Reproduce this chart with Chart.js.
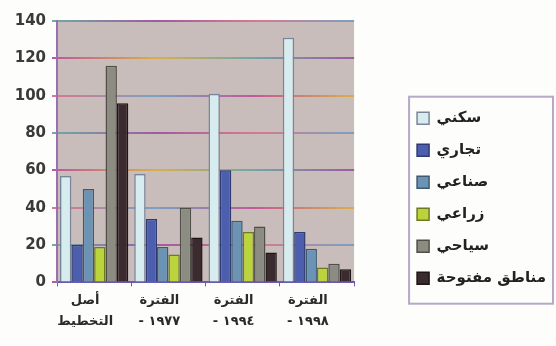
<!DOCTYPE html>
<html lang="ar">
<head>
<meta charset="utf-8">
<script src="https://cdn.jsdelivr.net/npm/chart.js@4/dist/chart.umd.min.js"></script>
<style>
  html, body { margin: 0; padding: 0; background: #fdfdfb; }
  #wrap { width: 556px; height: 346px; }
</style>
</head>
<body>
<div id="wrap"><canvas id="landUse"></canvas></div>
<script>
// land use by planning period
const periods = [
    ['أصل', 'التخطيط'],
    ['الفترة', '- ١٩٧٧'],
    ['الفترة', '- ١٩٩٤'],
    ['الفترة', '- ١٩٩٨']
];
const useNames = ['سكني', 'تجاري', 'صناعي', 'زراعي', 'سياحي', 'مناطق مفتوحة'];
const residential = [57, 58, 101, 131];
const commercial  = [20, 34, 60, 27];
const industrial  = [50, 19, 33, 18];
const agricultural = [19, 15, 27, 8];
const tourism     = [116, 40, 30, 10];
const openAreas   = [96, 24, 16, 7];
const yTicks = [0, 20, 40, 60, 80, 100, 120, 140];

const fills   = ['#d6ecef', '#4c5fae', '#6b93b4', '#bcd43c', '#8d8c82', '#3b2a2e'];
const borders = ['#7b8598', '#2f3a70', '#3f5a70', '#6f7a20', '#4f4e48', '#1e1518'];
const seriesValues = [residential, commercial, industrial, agricultural, tourism, openAreas];

// grid lines drawn with a shifting colour fringe
const fringe = ['#c0589a', '#d8b048', '#6fa6a6', '#a05aa0', '#d87890', '#7aa0c0'];
function gridColour(c) {
    const chart = c.chart;
    const a = chart.chartArea;
    if (!a) return '#b06a9a';
    const g = chart.ctx.createLinearGradient(a.left, 0, a.right, 0);
    for (let i = 0; i < 4; i++) {
        g.addColorStop(i / 3, fringe[(c.index * 2 + i) % fringe.length]);
    }
    return g;
}

const plotBackground = {
    id: 'plotBackground',
    beforeDraw(chart) {
        const {ctx, chartArea: a} = chart;
        ctx.save();
        ctx.fillStyle = '#c9bdbb';
        ctx.fillRect(a.left, a.top, a.right - a.left, a.bottom - a.top);
        ctx.restore();
    }
};

// frame round the legend
const legendFrame = {
    id: 'legendFrame',
    afterDraw(chart) {
        const lg = chart.legend;
        const hb = lg.legendHitBoxes;
        if (!hb || !hb.length) return;
        const first = hb[0], last = hb[hb.length - 1];
        const ctx = chart.ctx;
        ctx.save();
        ctx.strokeStyle = '#b7a9c6';
        ctx.lineWidth = 2;
        const x0 = first.left - 8, y0 = first.top - 14;
        const x1 = chart.width - 3, y1 = last.top + last.height + 18;
        ctx.strokeRect(x0, y0, x1 - x0, y1 - y0);
        ctx.restore();
    }
};

const ctx = document.getElementById('landUse').getContext('2d');
new Chart(ctx, {
    type: 'bar',
    data: {
        labels: periods,
        datasets: useNames.map((name, i) => ({
            label: name,
            data: seriesValues[i],
            backgroundColor: fills[i],
            borderColor: borders[i],
            borderWidth: 1.5,
            categoryPercentage: 0.92,
            barPercentage: 1.0
        }))
    },
    options: {
        responsive: true,
        maintainAspectRatio: false,
        animation: false,
        layout: { padding: { top: 21, bottom: 10, left: 0, right: 0 } },
        scales: {
            x: {
                grid: { display: true, drawOnChartArea: false, tickLength: 4, color: '#6a5ab0', offset: true },
                border: { color: '#6a5ab0', width: 2 },
                ticks: {
                    color: '#2a2a2a',
                    font: { family: 'DejaVu Sans', size: 13, weight: 'bold', lineHeight: 1.6 },
                    padding: 4,
                    labelOffset: -9,
                    maxRotation: 0
                }
            },
            y: {
                min: 0,
                max: 140,
                afterFit(s) { s.width = 57; },
                afterBuildTicks(s) { s.ticks = yTicks.map(v => ({ value: v })); },
                grid: { color: gridColour, lineWidth: 2, tickLength: 5 },
                border: { color: '#9a70b0', width: 2 },
                ticks: {
                    color: '#3a3a3a',
                    font: { family: 'DejaVu Sans', size: 15, weight: 'bold' },
                    padding: 6
                }
            },
            gap: {
                position: 'right',
                display: true,
                afterFit(s) { s.width = 46; },
                grid: { display: false },
                border: { display: false },
                ticks: { display: false }
            }
        },
        plugins: {
            legend: {
                position: 'right',
                maxWidth: 220,
                title: { display: true, text: '', padding: { top: 19, bottom: 6 }, font: { size: 12 } },
                labels: {
                    boxWidth: 12,
                    boxHeight: 12,
                    padding: 17,
                    color: '#222',
                    font: { family: 'DejaVu Sans', size: 15, weight: 'bold' }
                }
            },
            tooltip: { enabled: false }
        }
    },
    plugins: [plotBackground, legendFrame]
});
</script>
</body>
</html>
